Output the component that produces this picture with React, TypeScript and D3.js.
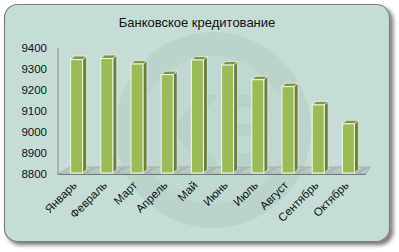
import React from "react";
import * as d3 from "d3";

const months = ["Январь", "Февраль", "Март", "Апрель", "Май", "Июнь", "Июль", "Август", "Сентябрь", "Октябрь"];
const values = [9345, 9350, 9324, 9273, 9343, 9319, 9249, 9216, 9129, 9039];
const ticks = [8800, 8900, 9000, 9100, 9200, 9300, 9400];
const title = "Банковское кредитование";

export default function App() {
  const W = 399, H = 252;
  const y = d3.scaleLinear().domain([8800, 9400]).range([174, 48]);
  const x = d3.scaleBand<string>().domain(months).range([61.5, 363.5]).padding(0);
  const bw = 12, dx = 4, dy = -3.5;
  const base = y(8800) - 1;
  const font = "'Liberation Sans', Arial, sans-serif";
  return (
    <svg width={W} height={H} style={{ position: "absolute", left: 0, top: 0 }}>
      <defs>
        <filter id="sh" x="-5%" y="-5%" width="115%" height="115%">
          <feGaussianBlur in="SourceAlpha" stdDeviation="2" />
          <feOffset dx="2.5" dy="2.5" result="b" />
          <feComponentTransfer><feFuncA type="linear" slope="0.55" /></feComponentTransfer>
          <feMerge><feMergeNode /><feMergeNode in="SourceGraphic" /></feMerge>
        </filter>
        <clipPath id="card"><rect x={4.5} y={4.5} width={385} height={237} rx={13} /></clipPath>
      </defs>
      <rect width={W} height={H} fill="#ffffff" />
      <rect x={4.5} y={4.5} width={385} height={237} rx={13} fill="#c6ddd7" stroke="#7f7f7f" strokeWidth={1.2} filter="url(#sh)" />
      <g clipPath="url(#card)" opacity={0.8}>
        <circle cx={213} cy={130} r={98} fill="#b9d1cb" />
        <circle cx={213} cy={130} r={74} fill="#bfd7d1" />
        <path d="M160,95 L175,95 L175,125 L200,95 L218,95 L190,130 L218,165 L200,165 L175,135 L175,165 L160,165 Z" fill="#b7cfc9" />
        <rect x={225} y={95} width={45} height={12} fill="#b7cfc9" />
        <rect x={225} y={124} width={45} height={12} fill="#b7cfc9" />
        <rect x={225} y={153} width={45} height={12} fill="#b7cfc9" />
      </g>
      <text x={197} y={27} textAnchor="middle" fontFamily={font} fontSize={13} fill="#111">{title}</text>
      {ticks.map(t => (
        <text key={t} x={47} y={y(t) + 4} textAnchor="end" fontFamily={font} fontSize={11.5} fill="#111">{t}</text>
      ))}
      <path d={`M58,${base + 1} L${58 + 12},${base - 6} L${370},${base - 6} L${366},${base + 1} Z`} fill="#b7c9c5" stroke="#9aa9a6" strokeWidth={0.8} />
      <line x1={58} y1={base + 1.5} x2={366} y2={base + 1.5} stroke="#7a7a7a" strokeWidth={1.2} />
      <line x1={58} y1={y(9400)} x2={58} y2={base + 1.5} stroke="#888" strokeWidth={1} />
      {months.map((m, i) => {
        const cx = (x(m) as number) + x.bandwidth() / 2;
        const l = cx - bw / 2, r = cx + bw / 2, top = y(values[i]);
        return (
          <g key={m}>
            <path d={`M${r},${base} L${r + 8},${base - 5} L${r + 14},${base - 5} L${r + 6},${base} Z`} fill="#9fb0ac" opacity={0.6} />
            <path d={`M${r},${top} L${r + dx},${top + dy} L${r + dx},${base + dy} L${r},${base} Z`} fill="#6b8038" stroke="#f4f8ec" strokeWidth={0.7} />
            <path d={`M${l},${top} L${l + dx},${top + dy} L${r + dx},${top + dy} L${r},${top} Z`} fill="#7d9746" stroke="#f4f8ec" strokeWidth={0.7} />
            <rect x={l} y={top} width={bw} height={base - top} fill="#9bbb59" stroke="#f4f8ec" strokeWidth={1} />
          </g>
        );
      })}
      {months.map(m => {
        const cx = (x(m) as number) + x.bandwidth() / 2;
        return (
          <text key={m} transform={`translate(${cx + 1},${186}) rotate(-45)`} textAnchor="end" fontFamily={font} fontSize={11.5} fill="#111">{m}</text>
        );
      })}
    </svg>
  );
}
